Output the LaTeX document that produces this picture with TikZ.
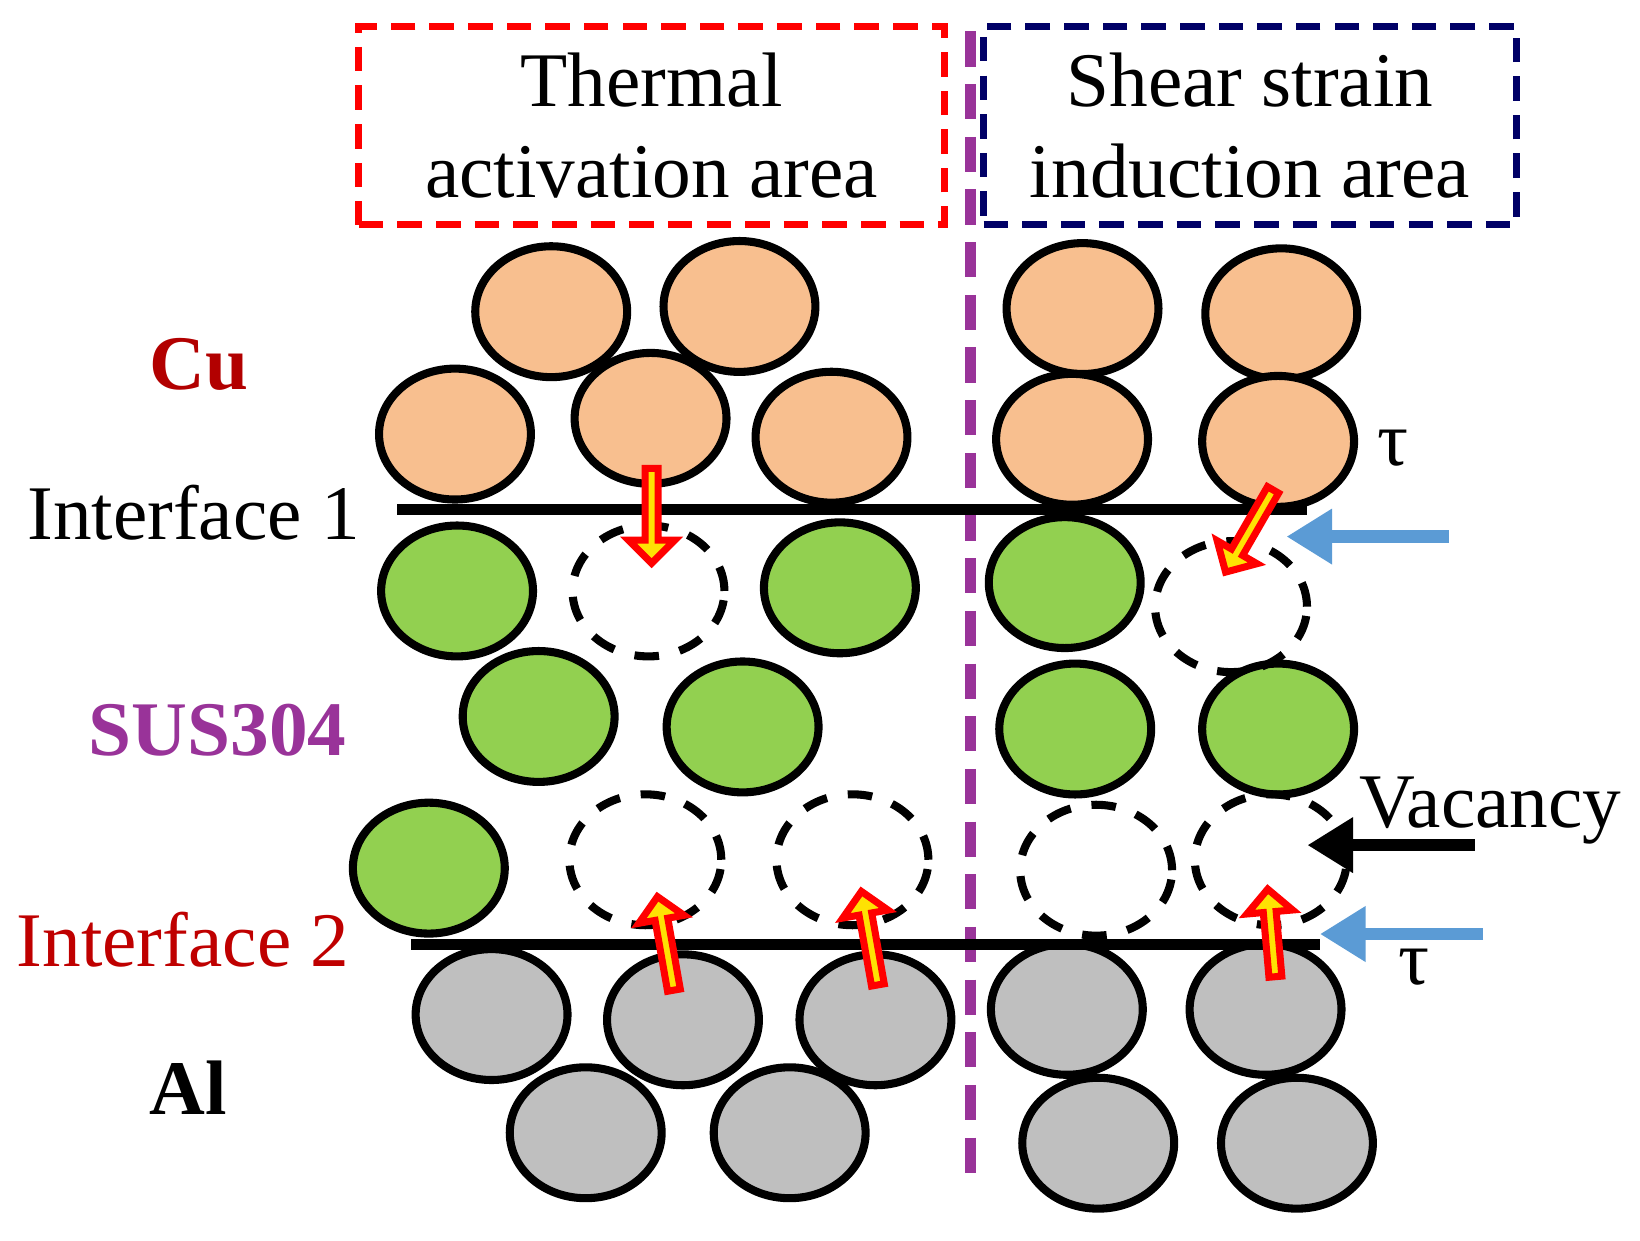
\documentclass[tikz,border=0pt]{standalone}
\usepackage{fontspec}
\setmainfont{Liberation Serif}
\usetikzlibrary{shapes.arrows,shapes.geometric,arrows.meta}
\definecolor{cuorange}{HTML}{F8BF8F}
\definecolor{fegreen}{HTML}{92D050}
\definecolor{shearblue}{HTML}{5B9BD5}
\begin{document}
\begin{tikzpicture}[x=0.01046cm,y=-0.01046cm,
  atom/.style = {ellipse, draw, line width=2.3pt, minimum width=1.52cm, minimum height=1.31cm, inner sep=0},
  cu/.style = {atom, fill=cuorange},
  fe/.style = {atom, fill=fegreen},
  al/.style = {atom, fill=gray!50},
  vac/.style = {atom, dash pattern=on 7pt off 6pt},
  jump/.style = {single arrow, draw=red, fill=yellow!85!orange, line width=2pt, minimum width=0.46cm, single arrow head extend=0.09cm, single arrow head indent=0cm, minimum height=0.95cm, inner sep=0},
  lbl/.style = {font=\fontsize{22}{26}\selectfont},
  push/.style = {-{Triangle[length=13pt,width=15pt]}, line width=3.5pt},
  ]
  \useasboundingbox (0,0) rectangle (1568,1186);
  % boxes
  \node[draw=red, dash pattern=on 7pt off 4pt, line width=2pt, minimum width=5.86cm, minimum height=1.99cm, lbl, align=center] (thermal) at (623,120) {Thermal\\activation area};
  \node[draw=blue!40!black, dash pattern=on 7pt off 4pt, line width=2pt, minimum width=5.33cm, minimum height=1.99cm, lbl, align=center] (shear) at (1195,120) {Shear strain\\induction area};
  \draw[violet!80, dash pattern=on 10pt off 5pt, line width=3pt] (928,30) -- (928,1135); % divider

  % atoms
  \foreach \n/\x/\y in {1/527/298,2/707/293,3/435/415,4/622/400,5/795/418,6/1035/295,7/1225/300,8/1025/420,9/1222/422}
    \node[cu] (cu\n) at (\x,\y) {};
  \foreach \n/\x/\y in {1/437/565,2/803/562,3/1018/557,4/515/685,5/710/695,6/1028/697,7/1222/697,8/410/830}
    \node[fe] (fe\n) at (\x,\y) {};
  \foreach \n/\x/\y in {1/470/970,2/653/975,3/837/975,4/1020/965,5/1210/965,6/560/1083,7/755/1083,8/1050/1093,9/1240/1093}
    \node[al] (al\n) at (\x,\y) {};
  \foreach \n/\x/\y in {1/620/565,2/1177/580,3/617/822,4/815/822,5/1048/832,6/1215/822}
    \node[vac] (vac\n) at (\x,\y) {};

  % interfaces
  \draw[line width=3pt] (380,487) -- (1250,487);
  \draw[line width=3pt] (393,903) -- (1262,903);

  % jumps
  \node[jump, rotate=-90] (j1) at (623,490) {};
  \node[jump, rotate=100] (j2) at (637,905) {};
  \node[jump, rotate=100] (j3) at (832,900) {};
  \node[jump, rotate=-120] (j4) at (1196,505) {};
  \node[jump, rotate=95, minimum height=0.88cm] (j5) at (1216,895) {};

  % labels
  \node[lbl, font=\fontsize{22}{26}\selectfont\bfseries, red!70!black] (cu) at (190,348) {Cu};
  \node[lbl] (if1) at (185,490) {Interface 1};
  \node[lbl, font=\fontsize{22}{26}\selectfont\bfseries, violet!80] (sus) at (208,698) {SUS304};
  \node[lbl, red!75!black] (if2) at (175,898) {Interface 2};
  \node[lbl, font=\fontsize{22}{26}\selectfont\bfseries] (al) at (180,1040) {Al};
  \node[lbl] (tau1) at (1332,428) {τ};
  \node[lbl] (tau2) at (1352,925) {τ};
  \node[lbl] (vacancy) at (1425,775) {Vacancy};

  \coordinate (s1) at (1385,513); \coordinate (e1) at (1230,513);
  \coordinate (s2) at (1418,893); \coordinate (e2) at (1262,893);
  \coordinate (s3) at (1410,808); \coordinate (e3) at (1250,808);
  \draw[push, shearblue] (s1) -- (e1);
  \draw[push, shearblue] (s2) -- (e2);
  \draw[push] (s3) -- (e3);
\end{tikzpicture}
\end{document}
